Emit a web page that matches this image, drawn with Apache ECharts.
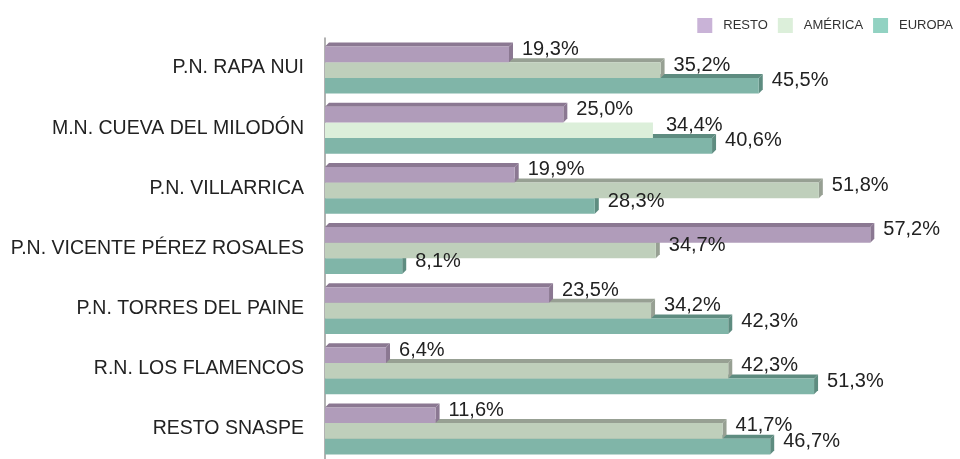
<!DOCTYPE html>
<html lang="es">
<head>
    <meta charset="UTF-8">
    <title>Visitantes extranjeros SNASPE</title>
    <script src="https://cdn.jsdelivr.net/npm/echarts@6/dist/echarts.min.js"></script>
    <style>
        html, body { margin: 0; padding: 0; background: #fff; }
    </style>
</head>
<body>
<div id="chart" style="width: 960px; height: 459px;"></div>
<script>
    const categories = ['P.N. RAPA NUI', 'M.N. CUEVA DEL MILODÓN', 'P.N. VILLARRICA', 'P.N. VICENTE PÉREZ ROSALES',
        'P.N. TORRES DEL PAINE', 'R.N. LOS FLAMENCOS', 'RESTO SNASPE'];
    const seriesNames = ['RESTO', 'AMÉRICA', 'EUROPA'];
    const resto = [19.3, 25.0, 19.9, 57.2, 23.5, 6.4, 11.6];
    const america = [35.2, 34.4, 51.8, 34.7, 34.2, 42.3, 41.7];
    const europa = [45.5, 40.6, 28.3, 8.1, 42.3, 51.3, 46.7];

    // legend colour, front face, top/side face
    const palette = [
        { legend: '#c9b3d7', front: '#b09cba', top: '#8b7892' },
        { legend: '#dcefda', front: '#bfcfbb', top: '#97a093' },
        { legend: '#92d2c2', front: '#80b5a8', top: '#5e8c80' }
    ];

    const chart = echarts.init(document.querySelector('#chart'));
    const depth = 4;

    function makeRender(s) {
        return function (params, api) {
            const cat = api.value(1);
            const val = api.value(0);
            const center = api.coord([0, cat]);
            const end = api.coord([val, cat]);
            const band = api.size([0, 1])[1];
            const t = band * 0.26;
            const x0 = center[0];
            const x1 = end[0];
            const y = center[1] - 1.5 * t + depth / 2 + s * t;
            const c = palette[s];
            const zb = 10 - s * 2;
            // the Milodón América bar shows up flat and lighter in the source
            const flat = (s === 1 && params.dataIndex === 1);
            const children = [];
            if (!flat) {
                children.push({
                    type: 'polygon',
                    z2: zb,
                    shape: { points: [[x0, y], [x0 + depth, y - depth], [x1 + depth, y - depth], [x1, y]] },
                    style: { fill: c.top }
                });
                children.push({
                    type: 'polygon',
                    z2: zb,
                    shape: { points: [[x1, y], [x1 + depth, y - depth], [x1 + depth, y + t - depth], [x1, y + t]] },
                    style: { fill: c.top }
                });
            }
            children.push({
                type: 'rect',
                z2: zb + 1,
                shape: { x: x0, y: y, width: x1 - x0, height: t },
                style: { fill: flat ? c.legend : c.front }
            });
            children.push({
                type: 'text',
                z2: 100,
                style: {
                    text: val.toFixed(1).replace('.', ',') + '%',
                    x: x1 + depth + 9,
                    y: y + t / 2 - 5,
                    verticalAlign: 'middle',
                    fill: '#222',
                    font: '20px "Liberation Sans", sans-serif'
                }
            });
            return { type: 'group', children: children };
        };
    }

    const allData = [resto, america, europa];

    chart.setOption({
        animation: false,
        legend: {
            right: 2,
            top: 13,
            itemWidth: 15,
            itemHeight: 15,
            itemGap: 10,
            icon: 'rect',
            textStyle: { fontSize: 13, color: '#333', fontFamily: 'Liberation Sans', padding: [0, 0, 0, 6] },
            data: seriesNames
        },
        grid: { left: 325, right: 63, top: 38, height: 421 },
        xAxis: {
            type: 'value',
            min: 0,
            max: 60,
            show: false
        },
        yAxis: {
            type: 'category',
            inverse: true,
            data: categories,
            axisLine: { show: true, lineStyle: { color: '#999', width: 1.5 } },
            axisTick: { show: false },
            axisLabel: { color: '#222', fontSize: 19.5, margin: 21, fontFamily: 'Liberation Sans' }
        },
        series: seriesNames.map((name, s) => ({
            name: name,
            type: 'custom',
            z: 2,
            itemStyle: { color: palette[s].legend },
            renderItem: makeRender(s),
            encode: { x: 0, y: 1 },
            data: allData[s].map((v, i) => [v, i])
        }))
    });
</script>
</body>
</html>
